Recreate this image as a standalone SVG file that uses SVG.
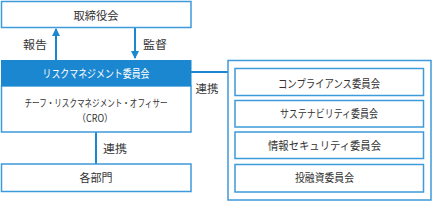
<svg xmlns="http://www.w3.org/2000/svg" width="432" height="201" viewBox="0 0 432 201">
<defs>
<style>
.box{fill:#fff;stroke:#3d9bdb;stroke-width:1.5}
.t{font-family:"Noto Sans CJK JP","Noto Sans",sans-serif;font-size:11px;fill:#333;text-anchor:middle;dominant-baseline:central}
.s{font-size:10px}
.w{fill:#fff}
.ln{stroke:#1a87d0;stroke-width:2;fill:none}
</style>
<marker id="ah" viewBox="0 0 8 8" refX="7" refY="4" markerWidth="4" markerHeight="4" orient="auto" markerUnits="strokeWidth">
<path d="M0,0 L8,4 L0,8 Z" fill="#1a87d0"/>
</marker>
</defs>
<rect width="432" height="201" fill="#fff"/>
<g id="connectors">
<line class="ln" x1="56" y1="60" x2="56" y2="29" marker-end="url(#ah)"/>
<line class="ln" x1="135" y1="28" x2="135" y2="58" marker-end="url(#ah)"/>
<line class="ln" x1="191" y1="72" x2="228" y2="72"/>
<line class="ln" x1="96" y1="132" x2="96" y2="164"/>
<text class="t" x="35" y="44" textLength="24" lengthAdjust="spacingAndGlyphs">報告</text>
<text class="t" x="155" y="44" textLength="24" lengthAdjust="spacingAndGlyphs">監督</text>
<text class="t" x="207" y="88" textLength="23" lengthAdjust="spacingAndGlyphs">連携</text>
<text class="t" x="115" y="148" textLength="24" lengthAdjust="spacingAndGlyphs">連携</text>
</g>
<g id="board">
<rect class="box" x="1.5" y="1.5" width="189.5" height="26"/>
<text class="t" x="96" y="15" textLength="45" lengthAdjust="spacingAndGlyphs">取締役会</text>
</g>
<g id="risk-committee">
<rect class="box" x="1.5" y="86" width="189.5" height="46"/>
<rect x="1" y="60" width="190.5" height="26" fill="#1b87d0"/>
<text class="t w" x="96" y="73" textLength="107" lengthAdjust="spacingAndGlyphs">リスクマネジメント委員会</text>
<text class="t s" x="96" y="102.5" textLength="143" lengthAdjust="spacingAndGlyphs">チーフ・リスクマネジメント・オフィサー</text>
<text class="t s" x="95" y="117.5" textLength="36" lengthAdjust="spacingAndGlyphs">（CRO）</text>
</g>
<g id="departments">
<rect class="box" x="1.5" y="164" width="189.5" height="27.5"/>
<text class="t" x="96" y="177" textLength="33" lengthAdjust="spacingAndGlyphs">各部門</text>
</g>
<g id="committees">
<rect class="box" x="228" y="60.5" width="203" height="139.5"/>
</g>
<g id="compliance">
<rect class="box" x="235" y="68.5" width="188.5" height="27"/>
<text class="t" x="329" y="83" textLength="102" lengthAdjust="spacingAndGlyphs">コンプライアンス委員会</text>
</g>
<g id="sustainability">
<rect class="box" x="235" y="100.5" width="188.5" height="26.5"/>
<text class="t" x="329" y="113" textLength="98" lengthAdjust="spacingAndGlyphs">サステナビリティ委員会</text>
</g>
<g id="infosec">
<rect class="box" x="235" y="132" width="188.5" height="26.5"/>
<text class="t" x="324.5" y="145" textLength="113" lengthAdjust="spacingAndGlyphs">情報セキュリティ委員会</text>
</g>
<g id="investment">
<rect class="box" x="235" y="164.5" width="188.5" height="27.5"/>
<text class="t" x="324.5" y="177" textLength="59" lengthAdjust="spacingAndGlyphs">投融資委員会</text>
</g>
</svg>
